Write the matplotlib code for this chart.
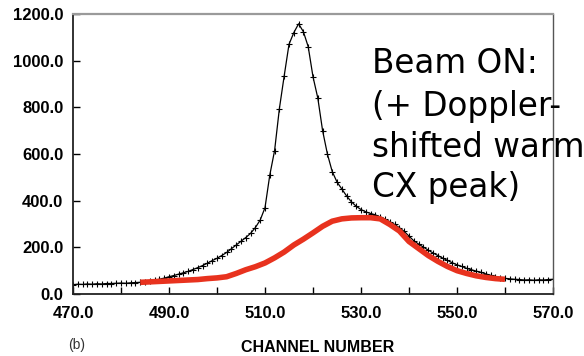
import matplotlib
matplotlib.use("Agg")
import matplotlib.pyplot as plt
import numpy as np

# measured spectrum (black, one point per channel 470..570)
channels = np.arange(470, 571)
counts = [40, 42, 41, 43, 42, 44, 43, 45, 45, 46,
          47, 46, 48, 49, 50, 53, 56, 59, 63, 68,
          74, 79, 85, 91, 97, 105, 113, 122, 132, 143,
          153, 165, 178, 194, 210, 226, 242, 260, 285, 317,
          370, 510, 615, 795, 935, 1070, 1120, 1158, 1124, 1060,
          931, 840, 700, 600, 525, 480, 450, 420, 395, 376,
          362, 352, 345, 339, 330, 320, 310, 298, 284, 268,
          248, 228, 214, 201, 188, 176, 165, 154, 144, 134,
          125, 118, 110, 104, 98, 93, 86, 80, 75, 70,
          67, 65, 63, 62, 60, 61, 59, 61, 60, 62, 63]

# hand-drawn warm CX component (red)
cx_channels = [484, 486, 488, 490, 492, 494, 496, 498, 500, 502,
               504, 506, 508, 510, 512, 514, 516, 518, 520, 522,
               524, 526, 528, 530, 532, 534, 536, 538, 540, 542,
               544, 546, 548, 550, 552, 554, 556, 558, 560]
cx_counts = [50, 52, 54, 56, 58, 60, 62, 66, 69, 74,
             88, 104, 117, 133, 155, 180, 210, 235, 262, 290,
             312, 322, 326, 327, 327, 322, 298, 270, 225, 195,
             165, 140, 118, 100, 88, 78, 71, 66, 63]

xticks_major = [470, 490, 510, 530, 550, 570]
yticks = [0, 200, 400, 600, 800, 1000, 1200]

note_lines = ['Beam ON:', '(+ Doppler-', 'shifted warm', 'CX peak)']
note_baselines = [72.7, 116, 157, 196.7]   # pixels from top

fig = plt.figure(figsize=(5.84, 3.56), dpi=100)
ax = fig.add_axes([73/584, 62/356, 480/584, 280/356])

ax.plot(channels, counts, color='black', lw=0.9, marker='+', ms=4.5, mew=0.8)
ax.plot(cx_channels, cx_counts, color='#e8321e', lw=4.0, solid_capstyle='butt')

ax.set_xlim(470, 570)
ax.set_ylim(0, 1200)
ax.set_xticks(xticks_major)
ax.set_xticks(np.arange(470, 571, 10), minor=True)
ax.set_xticklabels(['%.1f' % v for v in xticks_major])
ax.set_yticks(yticks)
ax.set_yticklabels(['%.1f' % v for v in yticks])

tick_font = dict(family='Liberation Sans', weight='bold', size=12)
for lab in ax.get_xticklabels() + ax.get_yticklabels():
    lab.set_fontproperties(matplotlib.font_manager.FontProperties(**tick_font))

ax.tick_params(axis='both', which='both', direction='in', length=5, width=1.0)
ax.tick_params(axis='x', pad=9)
ax.tick_params(axis='y', pad=7)

for side in ['left', 'bottom']:
    ax.spines[side].set_color('#222222')
    ax.spines[side].set_linewidth(1.3)
ax.spines['top'].set_color('#9a9a9a')
ax.spines['top'].set_linewidth(1.6)
ax.spines['right'].set_color('#555555')
ax.spines['right'].set_linewidth(1.0)

fig.text(318/584, 1 - 348/356, 'CHANNEL NUMBER', ha='center', va='center',
         family='Liberation Sans', weight='bold', size=11.5)
fig.text(77/584, 1 - 345/356, '(b)', ha='center', va='center',
         family='Liberation Sans', size=10, color='#333333')

for line, yb in zip(note_lines, note_baselines):
    fig.text(372/584, 1 - yb/356, line, ha='left', va='baseline',
             family='DejaVu Sans', size=23.5, color='black')

fig.savefig('out.png', dpi=100)
